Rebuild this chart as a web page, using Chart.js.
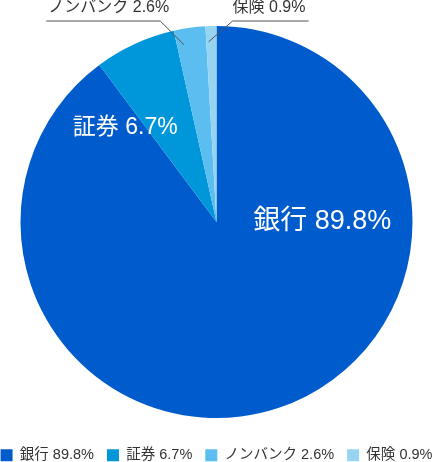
<!DOCTYPE html>
<html lang="ja">
<head>
<meta charset="utf-8">
<script src="https://cdn.jsdelivr.net/npm/chart.js@4"></script>
<style>
  html, body { margin: 0; padding: 0; background: #fff; }
  #wrap { width: 433px; height: 462px; }
</style>
</head>
<body>
<div id="wrap"><canvas id="shareChart"></canvas></div>
<script>
document.addEventListener('DOMContentLoaded', function(){

// Share by type of lender
const categories = ['銀行', '証券', 'ノンバンク', '保険'];
const shares = [89.8, 6.7, 2.6, 0.9];
const sliceColors = ['#005bcc', '#0096da', '#5cbef0', '#97d4f1'];

const FONT = "'Liberation Sans', 'Noto Sans CJK JP', sans-serif";

// big slices get a white label inside, small ones a label up top with a leader line
const labelStyle = [
  {inside: true, angle: 0, dist: 0.54, size: 27},
  {inside: true, angle: -134, dist: 0.67, size: 23},
  {inside: false, dir: -1, shift: -2.5, slope: 1.0, lineLen: 114, size: 16},
  {inside: false, dir: 1, shift: -0.9, slope: 1.15, lineLen: 76, size: 16}
];

function labelText(i) {
  return categories[i] + ' ' + shares[i].toFixed(1) + '%';
}

const sliceLabels = {
  id: 'sliceLabels',
  afterDatasetsDraw(chart) {
    const ctx = chart.ctx;
    const arcs = chart.getDatasetMeta(0).data;
    arcs.forEach(function(arc, i) {
      const st = labelStyle[i];
      const p = arc.getProps(['x', 'y', 'startAngle', 'endAngle', 'outerRadius'], true);
      ctx.save();
      ctx.font = st.size + 'px ' + FONT;
      ctx.textBaseline = 'middle';
      if (st.inside) {
        const a = st.angle * Math.PI / 180;
        ctx.fillStyle = '#fff';
        ctx.textAlign = 'center';
        ctx.fillText(labelText(i), p.x + Math.cos(a) * st.dist * p.outerRadius,
                     p.y + Math.sin(a) * st.dist * p.outerRadius);
      } else {
        const mid = (p.startAngle + p.endAngle) / 2 + st.shift * Math.PI / 180;
        const ax = p.x + Math.cos(mid) * p.outerRadius * 0.92;
        const ay = p.y + Math.sin(mid) * p.outerRadius * 0.92;
        const ey = p.y - p.outerRadius - 5;
        const ex = ax + st.dir * (ay - ey) * st.slope;
        ctx.strokeStyle = '#555';
        ctx.lineWidth = 1;
        ctx.beginPath();
        ctx.moveTo(ax, ay);
        ctx.lineTo(ex, ey);
        ctx.lineTo(ex + st.dir * st.lineLen, ey);
        ctx.stroke();
        ctx.fillStyle = '#333';
        if (st.dir < 0) {
          ctx.textAlign = 'right';
          ctx.fillText(labelText(i), ex + 9, ey - 13.5);
        } else {
          ctx.textAlign = 'left';
          ctx.fillText(labelText(i), ex, ey - 13.5);
        }
      }
      ctx.restore();
    });
  }
};

new Chart(document.getElementById('shareChart'), {
  type: 'pie',
  data: {
    labels: categories,
    datasets: [{
      data: shares,
      backgroundColor: sliceColors,
      borderWidth: 0,
      radius: 196
    }]
  },
  options: {
    responsive: true,
    maintainAspectRatio: false,
    animation: false,
    layout: { padding: { top: 9, left: -14, right: -14 } },
    plugins: {
      tooltip: { enabled: false },
      legend: {
        position: 'bottom',
        maxHeight: 27,
        labels: {
          boxWidth: 12,
          boxHeight: 12,
          padding: 13,
          color: '#333',
          font: { family: FONT, size: 14.5 },
          generateLabels: function(chart) {
            const items = Chart.overrides.pie.plugins.legend.labels.generateLabels(chart);
            items.forEach(function(it, i) { it.text = labelText(i); it.lineWidth = 0; });
            return items;
          }
        }
      }
    }
  },
  plugins: [sliceLabels]
});

});
</script>
</body>
</html>
